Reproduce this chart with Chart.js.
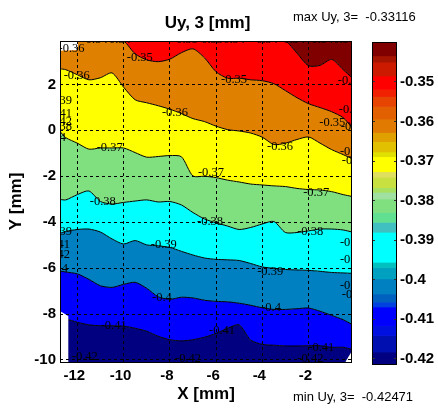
<!DOCTYPE html>
<html>
<head>
<meta charset="utf-8">
<script src="https://cdn.jsdelivr.net/npm/chart.js@4/dist/chart.umd.min.js"></script>
<style>
  html, body { margin: 0; padding: 0; background: #fff; }
  #wrap { position: relative; width: 438px; height: 408px; }
  #main { position: absolute; left: 0; top: 0; width: 438px; height: 408px; }
  #bar { position: absolute; left: 360px; top: 0; width: 78px; height: 408px; }
</style>
</head>
<body>
<div id="wrap">
  <canvas id="main" width="438" height="408"></canvas>
  <canvas id="bar" width="78" height="408"></canvas>
</div>
<script>
// sample positions along X [mm] where each contour level was read
const xs = [-12.75, -12.5, -12, -11.5, -11, -10.5, -10, -9.5, -9, -8.5, -8, -7.5, -7,
  -6.5, -6, -5.5, -5, -4.5, -4, -3.5, -3, -2.5, -2, -1.5, -1, -0.5, -0.12];

// Y [mm] of each contour line (top edge of the plot where a level does not exist)
const c034 = [3.89, 3.89, 3.89, 3.89, 3.89, 3.89, 3.89, 3.89, 3.89, 3.89, 3.89, 3.89, 3.89,
  3.89, 3.89, 3.89, 3.89, 3.89, 3.89, 3.89, 3.89, 3.36, 2.81, 2.83, 3.09, 2.64, 2.29];
const c035 = [3.89, 3.89, 3.89, 3.89, 3.89, 3.89, 3.89, 3.33, 3.07, 2.99, 3.10, 3.38, 3.55,
  3.16, 2.55, 2.27, 2.27, 2.20, 2.16, 2.03, 1.73, 1.42, 1.16, 0.99, 0.81, 0.55, 0.12];
const c036 = [2.68, 2.64, 2.42, 2.20, 2.29, 2.50, 1.88, 1.33, 1.20, 1.07, 0.92, 0.73, 0.51,
  0.38, 0.18, 0.03, -0.03, -0.12, -0.30, -0.62, -0.56, -0.40, -0.29, -0.56, -0.84, -1.06, -1.23];
const c037 = [-0.05, -0.32, -0.56, -0.82, -0.77, -0.77, -0.77, -0.97, -1.17, -1.14, -1.10, -1.15, -1.99,
  -2.00, -2.06, -2.17, -2.25, -2.34, -2.38, -2.42, -2.45, -2.53, -2.58, -2.60, -2.67, -2.80, -2.88];
const c038 = [-3.01, -3.03, -2.80, -2.64, -3.10, -3.21, -3.14, -3.08, -3.03, -3.12, -3.10, -3.25, -3.58,
  -3.86, -4.03, -4.17, -4.32, -4.23, -4.08, -3.97, -4.45, -4.45, -4.38, -4.30, -4.30, -4.34, -4.43];
const c039 = [-4.49, -4.40, -4.32, -4.30, -4.43, -4.73, -4.95, -4.80, -4.99, -5.03, -5.10, -5.27, -5.43,
  -5.56, -5.62, -5.64, -5.67, -5.80, -5.95, -6.01, -6.06, -6.08, -6.10, -6.14, -6.19, -6.21, -6.23];
const c040 = [-6.13, -6.17, -6.25, -6.49, -6.77, -6.84, -6.71, -6.62, -6.88, -7.25, -7.36, -7.27, -7.30,
  -7.40, -7.45, -7.47, -7.53, -7.62, -7.73, -7.80, -7.80, -7.77, -7.74, -7.88, -8.06, -8.25, -8.45];
const c041 = [-8.14, -8.21, -8.36, -8.47, -8.51, -8.51, -8.53, -8.62, -8.75, -8.97, -9.12, -9.17, -9.12,
  -9.01, -8.84, -8.62, -8.47, -9.14, -9.32, -9.36, -9.39, -9.39, -9.38, -9.38, -9.45, -9.45, -9.54];
const levels = [c034, c035, c036, c037, c038, c039, c040, c041];
const levelNames = ["-0.34", "-0.35", "-0.36", "-0.37", "-0.38", "-0.39", "-0.4", "-0.41"];

// the -0.42 contour hugging the bottom
const c042X = [-12.38, -11.1, -10.66, -10.3, -0.41];
const c042Y = [-10.05, -10.05, -9.62, -10.05, -10.05];

// blank (no data) corners
const blankTopX = [-12.75, -11.97, -11.97];
const blankTopY = [3.47, 3.5, 3.89];
const blankLeftX = [-12.75, -12.38, -12.38];
const blankLeftY = [-7.87, -8.1, -10.09];
const blankRightX = [-0.41, -0.12];
const blankRightY = [-10.09, -9.61];

const bandColors = ["#800000", "#ff0000", "#df8000", "#ffff00", "#80e080",
  "#00ffff", "#0080c0", "#0000ff", "#000080"];

const xTicks = [-12, -10, -8, -6, -4, -2];
const yTicks = [2, 0, -2, -4, -6, -8, -10];

// contour labels: text, X, Y
const contourLabels = [
  ["-0.35", -9.30, 3.16], ["-0.36", -12.03, 2.38], ["-0.36", -7.78, 0.77],
  ["-0.37", -10.60, -0.75], ["-0.35", -5.22, 2.20], ["-0.36", -3.23, -0.71],
  ["-0.37", -6.22, -1.84], ["-0.35", -0.97, 0.33], ["-0.37", -1.67, -2.71],
  ["-0.38", -10.90, -3.10], ["-0.38", -6.26, -3.97], ["-0.38", -1.93, -4.40],
  ["-0.39", -8.26, -4.97], ["-0.39", -3.66, -6.14], ["-0.4", -8.34, -7.27],
  ["-0.4", -3.62, -7.71], ["-0.41", -10.43, -8.49], ["-0.41", -5.74, -8.71],
  ["-0.41", -1.45, -9.45], ["-0.42", -11.68, -9.88], ["-0.42", -7.21, -9.93],
  ["-0.42", -1.92, -9.93],
  ["-0.39", -12.79, 1.29], ["-0.41", -12.79, 0.73], ["-0.42", -12.79, 0.38],
  ["-0.38", -12.79, 0.16], ["-0.4", -12.92, -0.32], ["-0.39", -12.79, -4.40],
  ["-0.41", -12.88, -4.97], ["-0.42", -12.88, -5.40], ["-0.4", -12.83, -6.02],
  ["-0.34", -0.17, 2.16], ["-0.35", -0.13, 0.90], ["-0.35", -0.04, 0.16],
  ["-0.36", -0.08, -0.93], ["-0.36", 0.0, -1.32], ["-0.38", -0.08, -4.88],
  ["-0.38", -0.08, -5.62], ["-0.39", -0.08, -6.76], ["-0.39", 0.0, -7.15],
  ["-0.36", -12.25, 3.55], ["-0.34", -11.25, 3.93], ["-0.34", -10.25, 3.93],
  ["-0.35", -7.34, 3.93], ["-0.35", -6.26, 3.93], ["-0.34", -5.31, 3.93],
  ["-0.34", -3.88, 3.93], ["-0.34", -2.71, 3.93], ["-0.34", -1.49, 3.93], ["-0.34", -0.54, 3.93]
];

const maxVal = "-0.33116";
const minVal = "-0.42471";

// colorbar: band edges (top to bottom) and colours
const cbEdges = [-0.3399, -0.3434, -0.3450, -0.3485, -0.3519, -0.3537, -0.3562, -0.3594, -0.3628,
  -0.3651, -0.3677, -0.3689, -0.3727, -0.3741, -0.3767, -0.3779, -0.3796, -0.3830, -0.3855,
  -0.3880, -0.3956, -0.3969, -0.3998, -0.4036, -0.4057, -0.4069, -0.4116, -0.4141, -0.4183, -0.4213];
const cbColors = ["#800000", "#a41400", "#cc1a00", "#ff0000", "#f02000", "#e64400", "#e36000",
  "#e07a00", "#e0a000", "#e0c000", "#e0e000", "#ffff00", "#e0e060", "#c8e040", "#a8e060",
  "#a0e0a0", "#80e080", "#60e090", "#40c0c0", "#00ffff", "#00c0c0", "#00a0c0", "#0080c0",
  "#0060c0", "#0040e0", "#0000ff", "#0010e0", "#0010b0", "#000080"];
const cbTicks = [-0.35, -0.36, -0.37, -0.38, -0.39, -0.4, -0.41, -0.42];

Chart.defaults.font.family = "'Liberation Sans', Arial, sans-serif";
Chart.defaults.color = "#000";

function points(px, py) {
  return px.map((x, i) => ({ x: x, y: py[i] }));
}

const frame = {
  id: "frame",
  afterDraw(chart) {
    const { ctx, chartArea: a } = chart;
    ctx.save();
    ctx.strokeStyle = "#000";
    ctx.lineWidth = 1;
    ctx.strokeRect(a.left + 0.5, a.top + 0.5, a.right - a.left - 1, a.bottom - a.top);
    ctx.restore();
  }
};

const contourText = {
  id: "contourText",
  afterDatasetsDraw(chart) {
    const { ctx, chartArea: a, scales } = chart;
    ctx.save();
    ctx.beginPath();
    ctx.rect(a.left, a.top, a.right - a.left, a.bottom - a.top);
    ctx.clip();
    ctx.font = "12.5px 'Liberation Serif'";
    ctx.fillStyle = "#000";
    ctx.textAlign = "center";
    ctx.textBaseline = "middle";
    contourLabels.forEach(([t, lx, ly]) => {
      ctx.fillText(t, scales.x.getPixelForValue(lx), scales.y.getPixelForValue(ly));
    });
    ctx.restore();
  }
};

const headings = {
  id: "headings",
  afterDraw(chart) {
    const { ctx, chartArea: a } = chart;
    ctx.save();
    ctx.fillStyle = "#000";
    ctx.textBaseline = "alphabetic";
    ctx.textAlign = "center";
    ctx.font = "bold 17px 'Liberation Sans'";
    ctx.fillText("Uy, 3 [mm]", (a.left + a.right) / 2 + 1.5, 27.5);
    ctx.textAlign = "left";
    ctx.font = "13px 'Liberation Sans'";
    ctx.fillText("max Uy, 3=  " + maxVal, 293, 20.5);
    ctx.fillText("min Uy, 3=  " + minVal, 293, 400.5);
    ctx.restore();
  }
};

const datasets = levels.map((ys, i) => ({
  label: levelNames[i],
  data: points(xs, ys),
  borderColor: "#000",
  borderWidth: 1,
  pointRadius: 0,
  tension: 0.25,
  fill: i === 0 ? "end" : "-1",
  backgroundColor: bandColors[i]
}));
datasets.push({
  label: "< -0.41",
  data: points(xs, c041),
  borderWidth: 0,
  pointRadius: 0,
  tension: 0.25,
  fill: "start",
  backgroundColor: bandColors[8]
});
datasets.push({
  label: "-0.42",
  data: points(c042X, c042Y),
  borderColor: "#000",
  borderWidth: 1,
  pointRadius: 0,
  tension: 0.3,
  fill: false
});
[[blankTopX, blankTopY, "end"], [blankLeftX, blankLeftY, "start"], [blankRightX, blankRightY, "start"]]
  .forEach(([bx, by, f]) => {
    datasets.push({
      data: points(bx, by),
      borderWidth: 0,
      pointRadius: 0,
      fill: f,
      backgroundColor: "#fff",
      order: -1
    });
  });

new Chart(document.getElementById("main"), {
  type: "line",
  data: { datasets: datasets },
  options: {
    responsive: false,
    animation: false,
    events: [],
    layout: { padding: { left: 0, top: 41, right: 86, bottom: 0 } },
    plugins: { legend: { display: false }, tooltip: { enabled: false }, title: { display: false } },
    scales: {
      x: {
        type: "linear",
        min: -12.75,
        max: -0.12,
        afterBuildTicks: (s) => { s.ticks = xTicks.map((v) => ({ value: v })); },
        afterFit: (s) => { s.height = 46; },
        grid: { color: "#000", lineWidth: 1, drawTicks: false, z: 1 },
        border: { display: false, dash: [3, 3] },
        ticks: {
          padding: 5,
          labelOffset: -3,
          maxRotation: 0,
          font: { size: 15, weight: "bold" },
          callback: (v) => String(v)
        },
        title: { display: true, text: "X [mm]", font: { size: 17, weight: "bold" }, padding: { top: 0, bottom: 3 } }
      },
      y: {
        type: "linear",
        min: -10.09,
        max: 3.89,
        afterBuildTicks: (s) => { s.ticks = yTicks.map((v) => ({ value: v })); },
        afterFit: (s) => { s.width = 60; },
        grid: { color: "#000", lineWidth: 1, drawTicks: false, z: 1 },
        border: { display: false, dash: [3, 3] },
        ticks: {
          padding: 4,
          font: { size: 15, weight: "bold" },
          callback: (v) => String(v)
        },
        title: { display: true, text: "Y [mm]", font: { size: 17, weight: "bold" }, padding: { top: 6, bottom: 0 } }
      }
    }
  },
  plugins: [contourText, frame, headings]
});

const cbSets = cbColors.map((c, i) => ({
  data: [[cbEdges[i + 1], cbEdges[i]]],
  backgroundColor: c,
  borderWidth: 0,
  barPercentage: 1,
  categoryPercentage: 1,
  grouped: false
}));

new Chart(document.getElementById("bar"), {
  type: "bar",
  data: { labels: [""], datasets: cbSets },
  options: {
    responsive: false,
    animation: false,
    events: [],
    layout: { padding: { left: 12, top: 42, right: 0, bottom: 44 } },
    plugins: { legend: { display: false }, tooltip: { enabled: false } },
    scales: {
      x: { display: false },
      y: {
        position: "right",
        min: cbEdges[cbEdges.length - 1],
        max: cbEdges[0],
        afterBuildTicks: (s) => { s.ticks = cbTicks.map((v) => ({ value: v })); },
        afterFit: (s) => { s.width = 41; },
        grid: { color: "#333", lineWidth: 1, drawTicks: false, z: 1 },
        border: { display: false, dash: [3, 19] },
        ticks: {
          padding: 3,
          font: { size: 15, weight: "bold" },
          callback: (v) => String(Math.round(v * 100) / 100)
        }
      }
    }
  },
  plugins: [frame]
});
</script>
</body>
</html>
